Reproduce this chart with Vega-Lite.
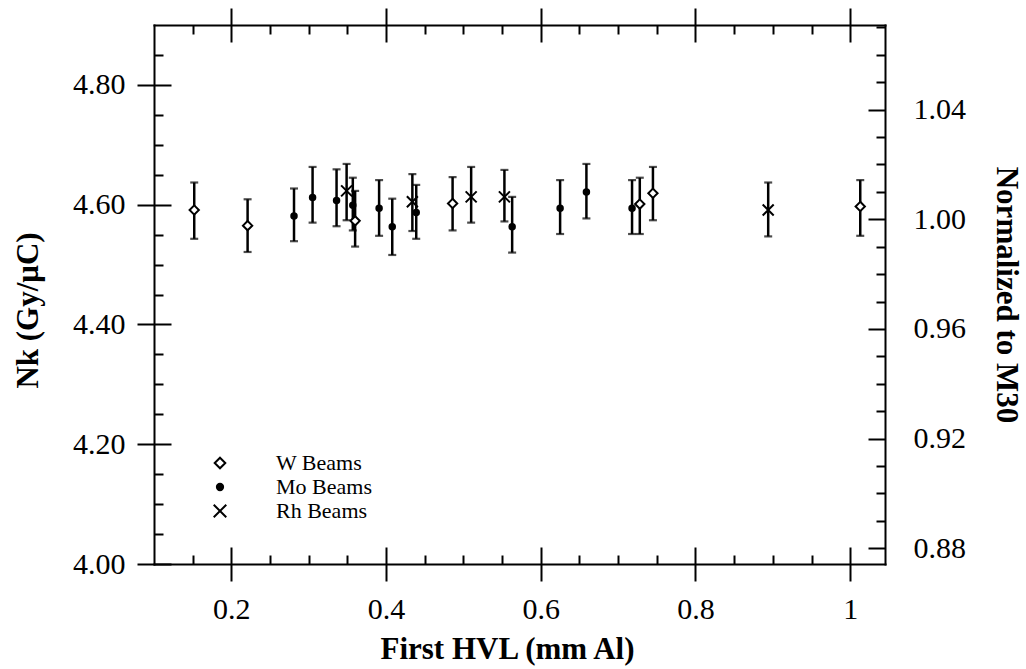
{
  "$schema": "https://vega.github.io/schema/vega-lite/v6.json",
  "width": 731,
  "height": 539,
  "autosize": {"type": "none"},
  "padding": {"left": 154, "top": 25, "right": 141, "bottom": 105},
  "background": "white",
  "data": {
    "values": [
      {"beam": "W Beams", "hvl": 0.152, "nk": 4.591, "lo": 4.543, "hi": 4.637},
      {"beam": "W Beams", "hvl": 0.221, "nk": 4.565, "lo": 4.521, "hi": 4.609},
      {"beam": "W Beams", "hvl": 0.360, "nk": 4.573, "lo": 4.530, "hi": 4.623},
      {"beam": "W Beams", "hvl": 0.486, "nk": 4.602, "lo": 4.557, "hi": 4.646},
      {"beam": "W Beams", "hvl": 0.728, "nk": 4.601, "lo": 4.551, "hi": 4.645},
      {"beam": "W Beams", "hvl": 0.745, "nk": 4.619, "lo": 4.574, "hi": 4.663},
      {"beam": "W Beams", "hvl": 1.013, "nk": 4.597, "lo": 4.548, "hi": 4.641},
      {"beam": "Mo Beams", "hvl": 0.281, "nk": 4.581, "lo": 4.539, "hi": 4.627},
      {"beam": "Mo Beams", "hvl": 0.305, "nk": 4.612, "lo": 4.570, "hi": 4.663},
      {"beam": "Mo Beams", "hvl": 0.336, "nk": 4.607, "lo": 4.564, "hi": 4.659},
      {"beam": "Mo Beams", "hvl": 0.357, "nk": 4.599, "lo": 4.557, "hi": 4.645},
      {"beam": "Mo Beams", "hvl": 0.391, "nk": 4.594, "lo": 4.548, "hi": 4.641},
      {"beam": "Mo Beams", "hvl": 0.408, "nk": 4.563, "lo": 4.516, "hi": 4.610},
      {"beam": "Mo Beams", "hvl": 0.439, "nk": 4.587, "lo": 4.543, "hi": 4.633},
      {"beam": "Mo Beams", "hvl": 0.563, "nk": 4.563, "lo": 4.520, "hi": 4.613},
      {"beam": "Mo Beams", "hvl": 0.625, "nk": 4.594, "lo": 4.551, "hi": 4.641},
      {"beam": "Mo Beams", "hvl": 0.659, "nk": 4.621, "lo": 4.577, "hi": 4.668},
      {"beam": "Mo Beams", "hvl": 0.718, "nk": 4.594, "lo": 4.551, "hi": 4.641},
      {"beam": "Rh Beams", "hvl": 0.349, "nk": 4.623, "lo": 4.574, "hi": 4.668},
      {"beam": "Rh Beams", "hvl": 0.434, "nk": 4.605, "lo": 4.556, "hi": 4.651},
      {"beam": "Rh Beams", "hvl": 0.510, "nk": 4.613, "lo": 4.570, "hi": 4.663},
      {"beam": "Rh Beams", "hvl": 0.553, "nk": 4.613, "lo": 4.572, "hi": 4.658},
      {"beam": "Rh Beams", "hvl": 0.894, "nk": 4.591, "lo": 4.547, "hi": 4.637}
    ]
  },
  "resolve": {"axis": {"x": "independent", "y": "independent"}},
  "layer": [
    {
      "mark": {"type": "rule", "stroke": "black", "strokeWidth": 2.5},
      "encoding": {
        "x": {
          "field": "hvl", "type": "quantitative",
          "scale": {"domain": [0.1, 1.045], "nice": false, "zero": false},
          "axis": {
            "orient": "bottom", "title": "First HVL (mm Al)",
            "values": [0.2, 0.4, 0.6, 0.8, 1.0], "labelExpr": "datum.value",
            "offset": -17, "tickSize": 34, "domain": false, "labelPadding": 13,
            "titlePadding": 10, "titleX": 353,
            "labelFont": "Times New Roman", "titleFont": "Times New Roman"
          }
        },
        "y": {
          "field": "lo", "type": "quantitative",
          "scale": {"domain": [4.0, 4.9], "nice": false, "zero": false},
          "axis": {
            "orient": "left", "title": "Nk (Gy/μC)",
            "values": [4.0, 4.2, 4.4, 4.6, 4.8], "format": ".2f",
            "offset": -17, "tickSize": 34, "domain": false, "labelPadding": 12,
            "titlePadding": 28, "titleY": 285,
            "labelFont": "Times New Roman", "titleFont": "Times New Roman"
          }
        },
        "y2": {"field": "hi"}
      }
    },
    {
      "mark": {"type": "tick", "orient": "horizontal", "color": "black", "size": 8, "thickness": 2.2},
      "encoding": {
        "x": {
          "field": "hvl", "type": "quantitative",
          "scale": {"domain": [0.1, 1.045], "nice": false, "zero": false},
          "axis": {
            "orient": "bottom", "title": null, "labels": false,
            "values": [0.15, 0.25, 0.3, 0.35, 0.45, 0.5, 0.55, 0.65, 0.7, 0.75, 0.85, 0.9, 0.95],
            "tickSize": -9, "domain": true
          }
        },
        "y": {
          "field": "lo", "type": "quantitative",
          "scale": {"domain": [4.0, 4.9], "nice": false, "zero": false},
          "axis": {
            "orient": "left", "title": null, "labels": false,
            "values": [4.05, 4.1, 4.15, 4.25, 4.3, 4.35, 4.45, 4.5, 4.55, 4.65, 4.7, 4.75, 4.85],
            "tickSize": -9, "domain": true
          }
        }
      }
    },
    {
      "mark": {"type": "tick", "orient": "horizontal", "color": "black", "size": 8, "thickness": 2.2},
      "encoding": {
        "x": {
          "field": "hvl", "type": "quantitative",
          "scale": {"domain": [0.1, 1.045], "nice": false, "zero": false},
          "axis": {
            "orient": "top", "title": null, "labels": false,
            "values": [0.2, 0.4, 0.6, 0.8, 1.0],
            "offset": -17, "tickSize": 34, "domain": false
          }
        },
        "y": {
          "field": "hi", "type": "quantitative",
          "scale": {"domain": [4.0, 4.9], "nice": false, "zero": false},
          "axis": {
            "orient": "right", "title": "Normalized to M30",
            "values": [4.02653, 4.20955, 4.39258, 4.5756, 4.75862],
            "labelExpr": "format(datum.value / 4.5756, '.2f')",
            "tickSize": -17, "labelPadding": 45, "domain": true,
            "labelAlign": "left", "titlePadding": 24,
            "labelFont": "Times New Roman", "titleFont": "Times New Roman"
          }
        }
      }
    },
    {
      "mark": {"type": "point", "size": 100, "strokeWidth": 2, "opacity": 1},
      "encoding": {
        "x": {
          "field": "hvl", "type": "quantitative",
          "scale": {"domain": [0.1, 1.045], "nice": false, "zero": false},
          "axis": {
            "orient": "top", "title": null, "labels": false,
            "values": [0.15, 0.25, 0.3, 0.35, 0.45, 0.5, 0.55, 0.65, 0.7, 0.75, 0.85, 0.9, 0.95],
            "tickSize": -9, "domain": true
          }
        },
        "y": {
          "field": "nk", "type": "quantitative",
          "scale": {"domain": [4.0, 4.9], "nice": false, "zero": false},
          "axis": {
            "orient": "right", "title": null, "labels": false,
            "values": [4.0723, 4.1180, 4.1638, 4.2553, 4.3011, 4.3468, 4.4383, 4.4841, 4.5298, 4.6214, 4.6671, 4.7129, 4.8044, 4.8501, 4.8959],
            "tickSize": -9, "domain": false
          }
        },
        "shape": {
          "field": "beam", "type": "nominal", "title": null,
          "scale": {
            "domain": ["W Beams", "Mo Beams", "Rh Beams"],
            "range": ["M0,-0.93L0.93,0L0,0.93L-0.93,0Z", "M0.55,0A0.55,0.55 0 1,1 -0.55,0A0.55,0.55 0 1,1 0.55,0Z", "M-1.1,-1.1L1.1,1.1M-1.1,1.1L1.1,-1.1"]
          }
        },
        "fill": {
          "field": "beam", "type": "nominal", "title": null,
          "scale": {
            "domain": ["W Beams", "Mo Beams", "Rh Beams"],
            "range": ["white", "black", "transparent"]
          }
        },
        "stroke": {
          "field": "beam", "type": "nominal", "title": null,
          "scale": {
            "domain": ["W Beams", "Mo Beams", "Rh Beams"],
            "range": ["black", "black", "black"]
          }
        }
      }
    }
  ],
  "config": {
    "view": {"stroke": null},
    "font": "Times New Roman",
    "style": {
      "guide-label": {"font": "Times New Roman"},
      "guide-title": {"font": "Times New Roman"}
    },
    "axis": {
      "grid": false,
      "labelFont": "Times New Roman", "labelFontSize": 30, "labelColor": "black",
      "titleFont": "Times New Roman", "titleFontSize": 31, "titleFontWeight": "bold", "titleColor": "black",
      "tickColor": "black", "tickWidth": 2, "domainColor": "black", "domainWidth": 2, "domainCap": "square",
      "labelOverlap": false, "labelFlush": false
    },
    "legend": {
      "orient": "none", "legendX": 55, "legendY": 427,
      "labelFont": "Times New Roman", "labelFontSize": 22, "labelColor": "black",
      "symbolSize": 130, "symbolStrokeWidth": 2,
      "labelOffset": 45, "rowPadding": 2, "padding": 0
    }
  }
}
